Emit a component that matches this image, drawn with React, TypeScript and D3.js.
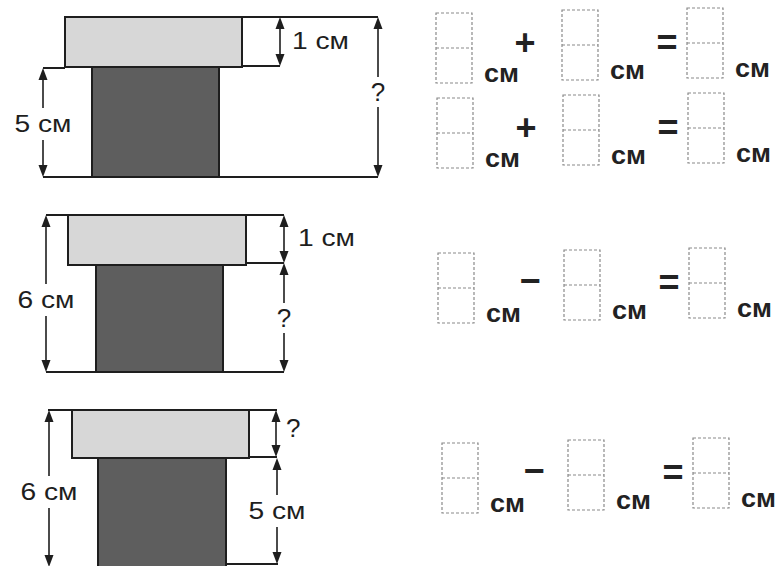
import React from "react";
import * as d3 from "d3";

// ---- data (labels read from the worksheet) ----
const TOP_LABELS = ["1 см", "1 см", "?"];
const BOTTOM_LABELS = ["5 см", "?", "5 см"];
const TOTAL_LABELS = ["?", "6 см", "6 см"];
const OPERATORS = ["+", "+", "−", "−"];
const UNIT = "см";
const BOXES_PER_ROW = [0, 1, 2];

const FONT = "'Liberation Sans', Arial, sans-serif";
const INK = "#1e1e1e";

type ArrowSpec = { x: number; y1: number; y2: number; label: string; mode: "center" | "right"; lx?: number; ly: number };

function arrowHead(x: number, tipY: number, dir: number) {
  const p = d3.path();
  p.moveTo(x, tipY);
  p.lineTo(x - 4.5, tipY + dir * 12);
  p.lineTo(x + 4.5, tipY + dir * 12);
  p.closePath();
  return p.toString();
}

function Arrow({ a }: { a: ArrowSpec }) {
  const isQ = a.label === "?";
  const gap = a.mode === "center" ? (isQ ? 15 : 16) : 0;
  const segs: [number, number][] =
    a.mode === "center"
      ? [
          [a.y1 + 6, a.ly - gap],
          [a.ly + gap, a.y2 - 6],
        ]
      : [[a.y1 + 6, a.y2 - 6]];
  return (
    <g>
      {segs.map((s, i) => (
        <line key={i} x1={a.x} x2={a.x} y1={s[0]} y2={s[1]} stroke={INK} strokeWidth={1.6} />
      ))}
      <path d={arrowHead(a.x, a.y1, 1)} fill={INK} />
      <path d={arrowHead(a.x, a.y2, -1)} fill={INK} />
      {isQ ? (
        <text
          x={a.mode === "center" ? a.x : a.lx}
          y={a.ly + 9}
          textAnchor={a.mode === "center" ? "middle" : "start"}
          fontFamily={FONT}
          fontSize={26}
          fill={INK}
        >
          {a.label}
        </text>
      ) : (
        <text
          x={a.mode === "center" ? a.x - 28.5 : a.lx}
          y={a.ly + 8}
          fontFamily={FONT}
          fontSize={24}
          fill={INK}
          textLength={57}
          lengthAdjust="spacingAndGlyphs"
        >
          {a.label}
        </text>
      )}
    </g>
  );
}

type Panel = {
  lines: [number, number, number, number][];
  light: [number, number, number, number];
  dark: [number, number, number, number];
  arrows: ArrowSpec[];
};

const panels: Panel[] = [
  {
    lines: [
      [65, 17, 378, 17],
      [242, 66, 280, 66],
      [43, 68, 65, 68],
      [43, 177, 378, 177],
    ],
    light: [65, 17, 242, 67],
    dark: [92, 67, 219, 177],
    arrows: [
      { x: 280, y1: 17, y2: 66, label: TOP_LABELS[0], mode: "right", lx: 292, ly: 41 },
      { x: 43, y1: 68, y2: 177, label: BOTTOM_LABELS[0], mode: "center", ly: 124 },
      { x: 378, y1: 17, y2: 177, label: TOTAL_LABELS[0], mode: "center", ly: 92 },
    ],
  },
  {
    lines: [
      [46, 215, 284, 215],
      [246, 263, 284, 263],
      [46, 372, 284, 372],
    ],
    light: [68, 215, 246, 265],
    dark: [96, 265, 223, 372],
    arrows: [
      { x: 284, y1: 215, y2: 263, label: TOP_LABELS[1], mode: "right", lx: 298, ly: 238 },
      { x: 284, y1: 263, y2: 372, label: BOTTOM_LABELS[1], mode: "center", ly: 318 },
      { x: 46, y1: 215, y2: 372, label: TOTAL_LABELS[1], mode: "center", ly: 300 },
    ],
  },
  {
    lines: [
      [48, 410, 277, 410],
      [249, 457, 277, 457],
      [226, 564, 278, 564],
    ],
    light: [72, 410, 249, 458],
    dark: [98, 458, 226, 568],
    arrows: [
      { x: 276, y1: 410, y2: 457, label: TOP_LABELS[2], mode: "right", lx: 286, ly: 428 },
      { x: 277, y1: 458, y2: 564, label: BOTTOM_LABELS[2], mode: "center", ly: 511 },
      { x: 49, y1: 410, y2: 567, label: TOTAL_LABELS[2], mode: "center", ly: 492 },
    ],
  },
];

// equation row layout
const rowTop = [13, 98, 253, 443];
const rowShift = [0, 1, 2, 6];
const colX = d3.scaleOrdinal<number, number>().domain(BOXES_PER_ROW).range([436, 562, 687]);
const colDy = [0, -3, -5];
const BOX_W = 36;
const BOX_H = 70;

function Equation({ row }: { row: number }) {
  const top = rowTop[row];
  const shift = rowShift[row];
  const op = OPERATORS[row];
  return (
    <g>
      {BOXES_PER_ROW.map((c) => {
        const x = colX(c) + shift;
        const y = top + colDy[c];
        return (
          <g key={c}>
            <rect x={x} y={y} width={BOX_W} height={BOX_H} fill="none" stroke="#8a8a8a" strokeWidth={1.2} strokeDasharray="3,2" />
            <line x1={x} x2={x + BOX_W} y1={y + BOX_H / 2} y2={y + BOX_H / 2} stroke="#8a8a8a" strokeWidth={1.2} strokeDasharray="3,2" />
            <text x={x + BOX_W + 12} y={y + BOX_H - 1} fontFamily={FONT} fontWeight="bold" fontSize={26} fill="#222" textLength={35} lengthAdjust="spacingAndGlyphs">
              {UNIT}
            </text>
          </g>
        );
      })}
      <text x={colX(0) + shift + (op === "+" ? 89 : 92)} y={top + (op === "+" ? 42 : 40)} textAnchor="middle" fontFamily={FONT} fontWeight="bold" fontSize={36} fill="#222">
        {op}
      </text>
      <text x={colX(2) + shift - 20} y={top + 42} textAnchor="middle" fontFamily={FONT} fontWeight="bold" fontSize={36} fill="#222">
        =
      </text>
    </g>
  );
}

export default function App() {
  return (
    <svg width={778} height={566} style={{ position: "absolute", left: 0, top: 0, background: "#fff" }}>
      <rect width={778} height={566} fill="#fff" />
      {panels.map((p, i) => (
        <g key={i}>
          <rect x={p.light[0]} y={p.light[1]} width={p.light[2] - p.light[0]} height={p.light[3] - p.light[1]} fill="#d7d7d7" stroke={INK} strokeWidth={2} />
          <rect x={p.dark[0]} y={p.dark[1]} width={p.dark[2] - p.dark[0]} height={p.dark[3] - p.dark[1]} fill="#5e5e5e" stroke={INK} strokeWidth={2} />
          {p.lines.map((l, j) => (
            <line key={j} x1={l[0]} y1={l[1]} x2={l[2]} y2={l[3]} stroke={INK} strokeWidth={2} />
          ))}
          {p.arrows.map((a, j) => (
            <Arrow key={j} a={a} />
          ))}
        </g>
      ))}
      {OPERATORS.map((_, r) => (
        <Equation key={r} row={r} />
      ))}
    </svg>
  );
}
